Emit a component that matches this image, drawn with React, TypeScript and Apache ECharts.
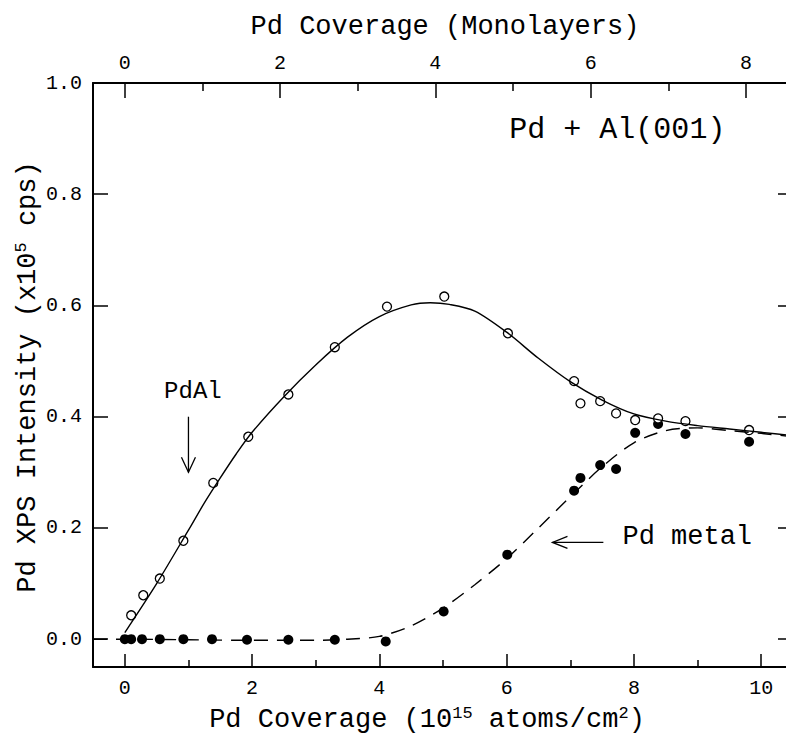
import { useEffect, useRef } from "react";
import * as echarts from "echarts";

// ---- data ----
const ML_FACTOR = 1.22; // 1 monolayer = 1.22e15 atoms/cm2
const X_MIN = -0.5;
const X_MAX = 10.5;
const Y_MIN = -0.05;
const Y_MAX = 1.0;

const X_MAJOR = [0, 2, 4, 6, 8, 10];
const X_MINOR = [1, 3, 5, 7, 9];
const ML_MAJOR = [0, 2, 4, 6, 8];
const ML_MINOR = [1, 3, 5, 7];
const Y_TICKS = [0, 0.2, 0.4, 0.6, 0.8, 1.0];

const PDAL_X = [0.1, 0.29, 0.55, 0.92, 1.39, 1.94, 2.57, 3.3, 4.12, 5.02, 6.02, 7.06, 7.16, 7.47, 7.72, 8.02, 8.38, 8.81, 9.81];
const PDAL_Y = [0.043, 0.079, 0.109, 0.177, 0.281, 0.364, 0.44, 0.525, 0.598, 0.616, 0.55, 0.464, 0.424, 0.428, 0.406, 0.394, 0.397, 0.392, 0.376];

const METAL_X = [0, 0.1, 0.27, 0.55, 0.92, 1.37, 1.92, 2.57, 3.3, 4.1, 5.01, 6.01, 7.06, 7.16, 7.47, 7.72, 8.02, 8.38, 8.81, 9.81];
const METAL_Y = [0, 0, 0, 0, 0, 0, -0.001, -0.001, -0.001, -0.004, 0.05, 0.152, 0.267, 0.29, 0.313, 0.306, 0.371, 0.387, 0.369, 0.355];

const FIT_PDAL_X = [0, 0.5, 1, 1.25, 1.5, 1.75, 2, 2.5, 3, 3.5, 4, 4.5, 4.8, 5.1, 5.5, 6, 6.5, 7, 7.5, 8, 8.5, 9, 9.5, 10, 10.5];
const FIT_PDAL_Y = [0.012, 0.1, 0.196, 0.245, 0.29, 0.333, 0.372, 0.436, 0.493, 0.543, 0.58, 0.601, 0.605, 0.602, 0.59, 0.552, 0.505, 0.463, 0.43, 0.405, 0.392, 0.384, 0.378, 0.372, 0.366];

const FIT_METAL_X = [-0.5, 0, 1, 2, 3, 3.5, 4, 4.5, 5, 5.5, 6, 6.5, 7, 7.5, 8, 8.5, 9, 9.5, 10, 10.5];
const FIT_METAL_Y = [0, 0, -0.001, -0.002, -0.002, 0, 0.005, 0.024, 0.056, 0.098, 0.145, 0.2, 0.256, 0.31, 0.353, 0.375, 0.38, 0.375, 0.37, 0.364];

const FONT = "'Liberation Mono', 'DejaVu Sans Mono', monospace";
const INK = "#000";

const zip = (xs: number[], ys: number[]) => xs.map((x, i) => [x, ys[i]]);

export default function App() {
  const ref = useRef<HTMLDivElement>(null);

  useEffect(() => {
    if (!ref.current) return;
    const chart = echarts.init(ref.current, undefined, { renderer: "svg" });

    const axisLine = { show: true, onZero: false, lineStyle: { color: INK, width: 2 } };
    const tickStyle = { color: INK, width: 1.5 };
    const labelStyle = { fontFamily: FONT, fontSize: 20, color: INK };

    chart.setOption({
      animation: false,
      backgroundColor: "#fff",
      grid: { left: 93, top: 83, width: 700, height: 584, containLabel: false },
      xAxis: [
        {
          type: "value", min: X_MIN, max: X_MAX, position: "bottom",
          axisLine, splitLine: { show: false },
          axisTick: { show: true, inside: true, length: 13, customValues: X_MAJOR, lineStyle: tickStyle },
          axisLabel: { ...labelStyle, margin: 11, customValues: X_MAJOR, formatter: (v: number) => String(v) },
        },
        {
          type: "value", min: X_MIN, max: X_MAX, position: "bottom",
          axisLine: { show: false, onZero: false }, splitLine: { show: false },
          axisTick: { show: true, inside: true, length: 7, customValues: X_MINOR, lineStyle: tickStyle },
          axisLabel: { show: false },
        },
        {
          type: "value", min: X_MIN / ML_FACTOR, max: X_MAX / ML_FACTOR, position: "top",
          axisLine, splitLine: { show: false },
          axisTick: { show: true, inside: true, length: 15, customValues: ML_MAJOR, lineStyle: tickStyle },
          axisLabel: { ...labelStyle, margin: 10, customValues: ML_MAJOR, formatter: (v: number) => String(v) },
        },
        {
          type: "value", min: X_MIN / ML_FACTOR, max: X_MAX / ML_FACTOR, position: "top",
          axisLine: { show: false, onZero: false }, splitLine: { show: false },
          axisTick: { show: true, inside: true, length: 8, customValues: ML_MINOR, lineStyle: tickStyle },
          axisLabel: { show: false },
        },
      ],
      yAxis: [
        {
          type: "value", min: Y_MIN, max: Y_MAX, position: "left",
          axisLine, splitLine: { show: false },
          axisTick: { show: true, inside: true, length: 15, customValues: Y_TICKS, lineStyle: tickStyle },
          axisLabel: { ...labelStyle, margin: 11, customValues: Y_TICKS, formatter: (v: number) => v.toFixed(1) },
        },
        {
          type: "value", min: Y_MIN, max: Y_MAX, position: "right",
          axisLine, splitLine: { show: false },
          axisTick: { show: true, inside: true, length: 15, customValues: Y_TICKS, lineStyle: tickStyle },
          axisLabel: { show: false },
        },
      ],
      series: [
        {
          type: "line", xAxisIndex: 0, yAxisIndex: 0, data: zip(FIT_PDAL_X, FIT_PDAL_Y),
          smooth: 0.3, showSymbol: false, symbol: "none",
          lineStyle: { color: INK, width: 1.4 },
        },
        {
          type: "line", xAxisIndex: 0, yAxisIndex: 0, data: zip(FIT_METAL_X, FIT_METAL_Y),
          smooth: 0.3, showSymbol: false, symbol: "none",
          lineStyle: { color: INK, width: 1.4, type: [14, 9] },
        },
        {
          type: "scatter", xAxisIndex: 0, yAxisIndex: 0, data: zip(METAL_X, METAL_Y),
          symbol: "circle", symbolSize: 10,
          itemStyle: { color: INK, borderColor: INK, borderWidth: 0, opacity: 1 },
        },
        {
          type: "scatter", xAxisIndex: 0, yAxisIndex: 0, data: zip(PDAL_X, PDAL_Y),
          symbol: "circle", symbolSize: 9,
          itemStyle: { color: "#fff", borderColor: INK, borderWidth: 1.3, opacity: 1 },
        },
      ],
    });

    const px = (x: number, y: number) =>
      chart.convertToPixel({ xAxisIndex: 0, yAxisIndex: 0 }, [x, y]) as number[];

    const pdalText = px(1.07, 0.446);
    const pdalA0 = px(1.0, 0.40);
    const pdalA1 = px(1.0, 0.30);
    const metalText = px(7.82, 0.183);
    const metalA0 = px(7.52, 0.174);
    const metalA1 = px(6.72, 0.174);
    const sysText = px(7.74, 0.915);

    const textStyle = (extra: any) => ({ fontFamily: FONT, fill: INK, ...extra });
    const rich = {
      a: { fontFamily: FONT, fontSize: 27, color: INK, verticalAlign: "bottom" },
      s: { fontFamily: FONT, fontSize: 17, color: INK, verticalAlign: "bottom", padding: [0, 0, 12, 0] },
    };

    chart.setOption({
      graphic: [
        {
          type: "text", x: 445, y: 27,
          style: textStyle({ text: "Pd Coverage (Monolayers)", fontSize: 27, align: "center", verticalAlign: "middle" }),
        },
        {
          type: "text", x: 427, y: 719,
          style: textStyle({
            text: "{a|Pd Coverage (10}{s|15}{a| atoms/cm}{s|2}{a|)}",
            align: "center", verticalAlign: "middle", rich,
          }),
        },
        {
          type: "text", x: 27, y: 377, rotation: Math.PI / 2,
          style: textStyle({
            text: "{a|Pd XPS Intensity (x10}{s|5}{a| cps)}",
            align: "center", verticalAlign: "middle", rich,
          }),
        },
        {
          type: "text", x: sysText[0], y: sysText[1],
          style: textStyle({ text: "Pd + Al(001)", fontSize: 30, align: "center", verticalAlign: "middle" }),
        },
        {
          type: "text", x: pdalText[0], y: pdalText[1],
          style: textStyle({ text: "PdAl", fontSize: 24, align: "center", verticalAlign: "middle" }),
        },
        {
          type: "line",
          shape: { x1: pdalA0[0], y1: pdalA0[1], x2: pdalA1[0], y2: pdalA1[1] },
          style: { stroke: INK, lineWidth: 1.3 },
        },
        {
          type: "polyline",
          shape: { points: [[pdalA1[0] - 7, pdalA1[1] - 15], [pdalA1[0], pdalA1[1]], [pdalA1[0] + 7, pdalA1[1] - 15]] },
          style: { stroke: INK, lineWidth: 1.3, fill: null },
        },
        {
          type: "text", x: metalText[0], y: metalText[1],
          style: textStyle({ text: "Pd metal", fontSize: 27, align: "left", verticalAlign: "middle" }),
        },
        {
          type: "line",
          shape: { x1: metalA0[0], y1: metalA0[1], x2: metalA1[0], y2: metalA1[1] },
          style: { stroke: INK, lineWidth: 1.3 },
        },
        {
          type: "polyline",
          shape: { points: [[metalA1[0] + 15, metalA1[1] - 6], [metalA1[0], metalA1[1]], [metalA1[0] + 15, metalA1[1] + 6]] },
          style: { stroke: INK, lineWidth: 1.3, fill: null },
        },
      ],
    });

    return () => chart.dispose();
  }, []);

  return (
    <div
      ref={ref}
      style={{ position: "fixed", left: 0, top: 0, width: 800, height: 737, background: "#fff" }}
    />
  );
}
